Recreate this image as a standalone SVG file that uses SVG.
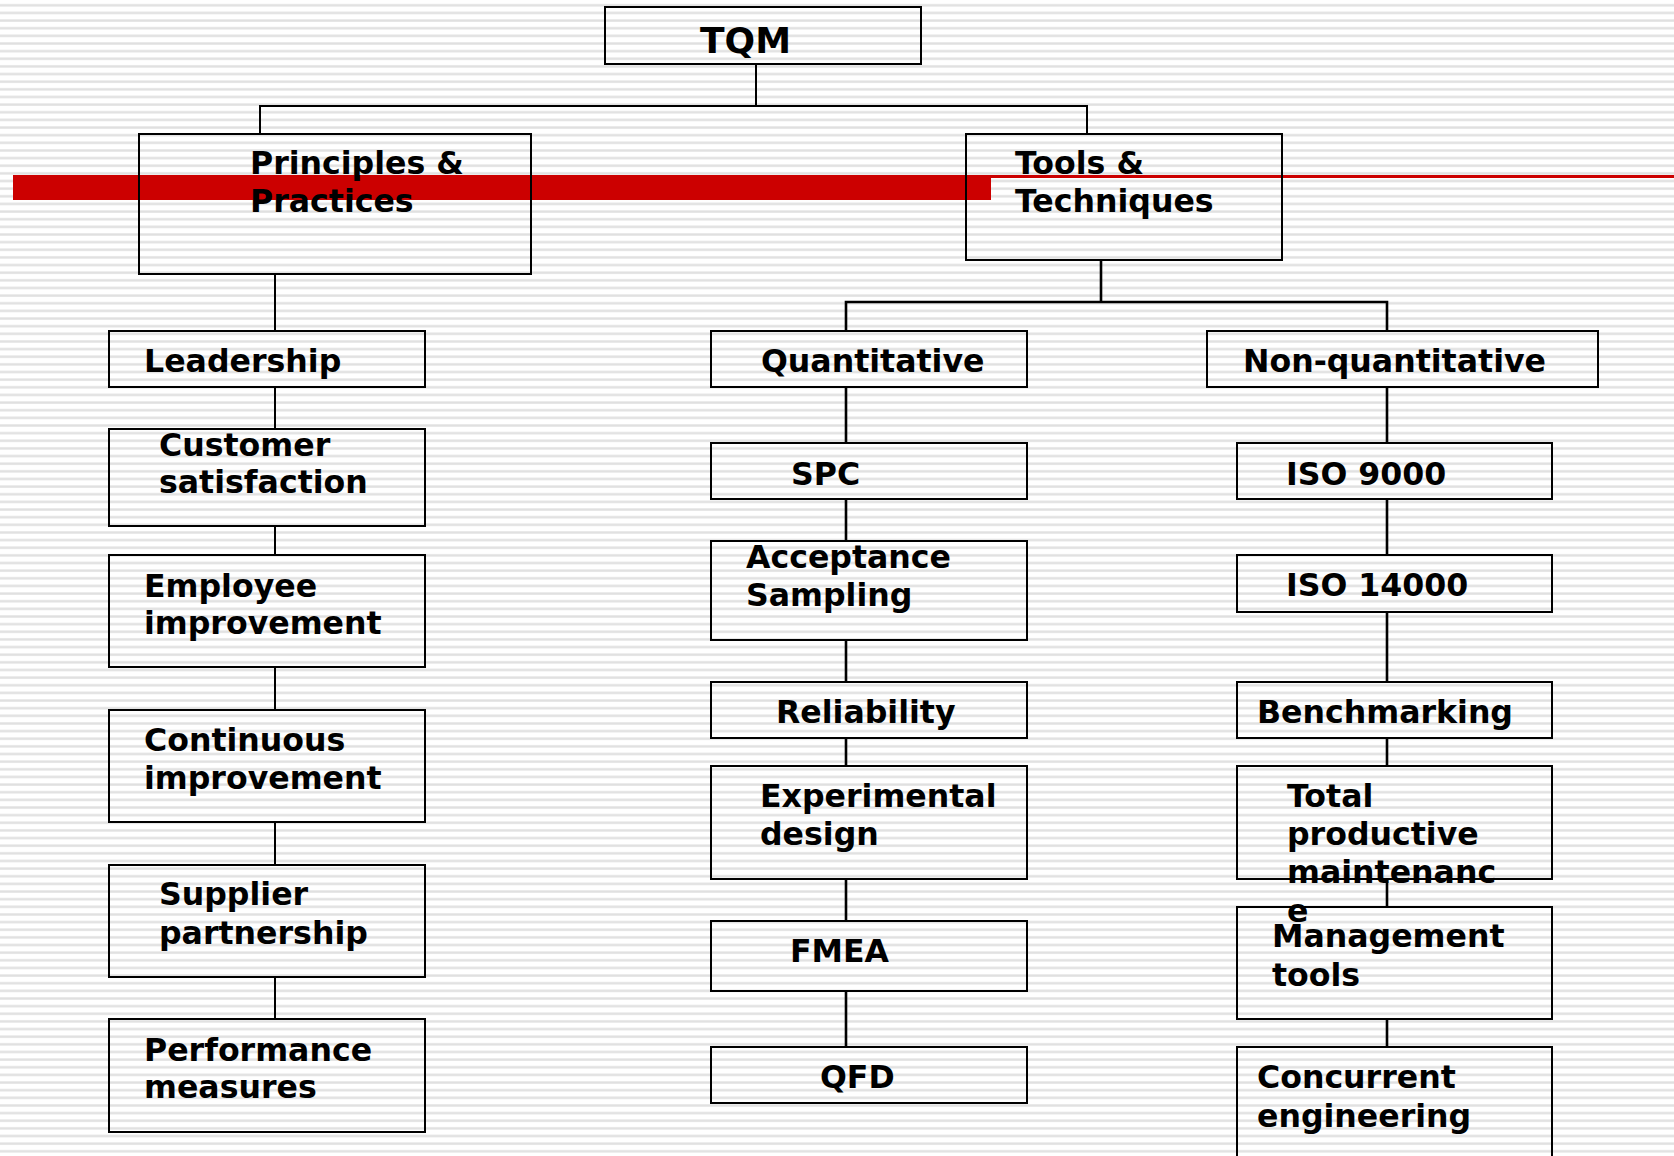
<svg xmlns="http://www.w3.org/2000/svg" width="1674" height="1156" viewBox="0 0 1674 1156">
<defs>
<pattern id="stripes" x="0" y="0" width="16" height="7.64" patternUnits="userSpaceOnUse">
<rect x="0" y="0" width="16" height="7.64" fill="#ffffff"/>
<rect x="0" y="4.1" width="16" height="2.4" fill="#e0e0e0"/>
</pattern>
</defs>
<style>
.box{fill:none;stroke:#000;stroke-width:2}
.t{font-family:"DejaVu Sans","Verdana",sans-serif;font-weight:bold;font-size:31.6px;fill:#000}
.c1{fill:none;stroke:#000;stroke-width:2}
.c2{fill:none;stroke:#000;stroke-width:2.6}
</style>
<rect x="0" y="0" width="1674" height="1156" fill="url(#stripes)"/>
<g id="decoration">
<rect x="13" y="175" width="978" height="25" fill="#cc0000"/>
<rect x="991" y="175" width="683" height="3" fill="#cc0000"/>
</g>
<g id="connectors">
<path class="c1" d="M756,64 V106 M260,134 V106 H1087 V134"/>
<path class="c1" d="M275,274 V331 M275,387 V429 M275,526 V555 M275,667 V710 M275,822 V865 M275,977 V1019"/>
<path class="c2" d="M1101,261 V302 M846,331 V302 H1387 V331"/>
<path class="c2" d="M846,387 V443 M846,499 V541 M846,640 V682 M846,738 V766 M846,879 V921 M846,991 V1047"/>
<path class="c2" d="M1387,387 V443 M1387,499 V555 M1387,612 V682 M1387,738 V766 M1387,879 V907 M1387,1019 V1047"/>
</g>
<g id="tqm"><rect class="box" x="605" y="7" width="316" height="57"/><text class="t" x="700" y="53" style="font-size:36px">TQM</text></g>
<g id="principles"><rect class="box" x="139" y="134" width="392" height="140"/><text class="t" x="250" y="174">Principles &amp;</text><text class="t" x="250" y="212">Practices</text></g>
<g id="tools"><rect class="box" x="966" y="134" width="316" height="126"/><text class="t" x="1015" y="174">Tools &amp;</text><text class="t" x="1015" y="212">Techniques</text></g>

<g id="leadership"><rect class="box" x="109" y="331" width="316" height="56"/><text class="t" x="144" y="372">Leadership</text></g>
<g id="customer"><rect class="box" x="109" y="429" width="316" height="97"/><text class="t" x="159" y="456">Customer</text><text class="t" x="159" y="493">satisfaction</text></g>
<g id="employee"><rect class="box" x="109" y="555" width="316" height="112"/><text class="t" x="144" y="597">Employee</text><text class="t" x="144" y="634">improvement</text></g>
<g id="continuous"><rect class="box" x="109" y="710" width="316" height="112"/><text class="t" x="144" y="751">Continuous</text><text class="t" x="144" y="789">improvement</text></g>
<g id="supplier"><rect class="box" x="109" y="865" width="316" height="112"/><text class="t" x="159" y="905">Supplier</text><text class="t" x="159" y="944">partnership</text></g>
<g id="performance"><rect class="box" x="109" y="1019" width="316" height="113"/><text class="t" x="144" y="1061">Performance</text><text class="t" x="144" y="1098">measures</text></g>

<g id="quantitative"><rect class="box" x="711" y="331" width="316" height="56"/><text class="t" x="761" y="372">Quantitative</text></g>
<g id="spc"><rect class="box" x="711" y="443" width="316" height="56"/><text class="t" x="791" y="485">SPC</text></g>
<g id="acceptance"><rect class="box" x="711" y="541" width="316" height="99"/><text class="t" x="746" y="568">Acceptance</text><text class="t" x="746" y="606">Sampling</text></g>
<g id="reliability"><rect class="box" x="711" y="682" width="316" height="56"/><text class="t" x="776" y="723">Reliability</text></g>
<g id="experimental"><rect class="box" x="711" y="766" width="316" height="113"/><text class="t" x="760" y="807">Experimental</text><text class="t" x="760" y="845">design</text></g>
<g id="fmea"><rect class="box" x="711" y="921" width="316" height="70"/><text class="t" x="790" y="962">FMEA</text></g>
<g id="qfd"><rect class="box" x="711" y="1047" width="316" height="56"/><text class="t" x="820" y="1088">QFD</text></g>

<g id="nonquantitative"><rect class="box" x="1207" y="331" width="391" height="56"/><text class="t" x="1243" y="372">Non-quantitative</text></g>
<g id="iso9000"><rect class="box" x="1237" y="443" width="315" height="56"/><text class="t" x="1286" y="485">ISO 9000</text></g>
<g id="iso14000"><rect class="box" x="1237" y="555" width="315" height="57"/><text class="t" x="1286" y="596">ISO 14000</text></g>
<g id="benchmarking"><rect class="box" x="1237" y="682" width="315" height="56"/><text class="t" x="1257" y="723">Benchmarking</text></g>
<g id="tpm"><rect class="box" x="1237" y="766" width="315" height="113"/><text class="t" x="1287" y="807">Total</text><text class="t" x="1287" y="845">productive</text><text class="t" x="1287" y="883">maintenanc</text><text class="t" x="1287" y="922">e</text></g>
<g id="management"><rect class="box" x="1237" y="907" width="315" height="112"/><text class="t" x="1272" y="947">Management</text><text class="t" x="1272" y="986">tools</text></g>
<g id="concurrent"><rect class="box" x="1237" y="1047" width="315" height="120"/><text class="t" x="1257" y="1088">Concurrent</text><text class="t" x="1257" y="1127">engineering</text></g>
</svg>
